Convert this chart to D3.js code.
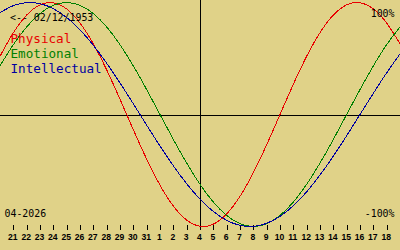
<!DOCTYPE html>
<html>
<head>
<meta charset="utf-8">
<script src="https://cdn.jsdelivr.net/npm/d3@7"></script>
<style>
html,body{margin:0;padding:0;background:#e0d288;}
svg{display:block;}
</style>
</head>
<body>
<svg id="chart" width="400" height="250"></svg>
<script>
// Days shown (Mar 20 .. Apr 19, 2026); edge days are not labelled
const days = [20,21,22,23,24,25,26,27,28,29,30,31,1,2,3,4,5,6,7,8,9,10,11,12,13,14,15,16,17,18,19];
const todayIndex = 15; // April 4
const physical = [0.5196,0.7308,0.8879,0.9791,0.9977,0.9423,0.8170,0.6311,0.3984,0.1362,-0.1362,-0.3984,-0.6311,-0.8170,-0.9423,-0.9977,-0.9791,-0.8879,-0.7308,-0.5196,-0.2698,0,0.2698,0.5196,0.7308,0.8879,0.9791,0.9977,0.9423,0.8170,0.6311];
const emotional = [0.4339,0.6235,0.7818,0.9010,0.9749,1,0.9749,0.9010,0.7818,0.6235,0.4339,0.2225,0,-0.2225,-0.4339,-0.6235,-0.7818,-0.9010,-0.9749,-1,-0.9749,-0.9010,-0.7818,-0.6235,-0.4339,-0.2225,0,0.2225,0.4339,0.6235,0.7818];
const intellectual = [0.9096,0.9718,0.9989,0.9898,0.9450,0.8660,0.7557,0.6182,0.4582,0.2817,0.0951,-0.0951,-0.2817,-0.4582,-0.6182,-0.7557,-0.8660,-0.9450,-0.9898,-0.9989,-0.9718,-0.9096,-0.8146,-0.6901,-0.5406,-0.3717,-0.1893,0,0.1893,0.3717,0.5406];
const seriesNames = ["Physical","Emotional","Intellectual"];
const seriesColors = ["#e80000","#008000","#0000a0"];
const birthLabel = "<-- 02/12/1953";
const monthLabel = "04-2026";
const topLabel = "100%";
const bottomLabel = "-100%";

const svg = d3.select("#chart");
const W = 400;
const x = d3.scaleLinear().domain([0, days.length - 1]).range([0, W]);
const y = d3.scaleLinear().domain([-1, 1]).range([226.5, 2.5]);

// axes cross
svg.append("line")
  .attr("x1", 0).attr("x2", W)
  .attr("y1", Math.floor(y(0)) + 1.5).attr("y2", Math.floor(y(0)) + 1.5)
  .attr("stroke", "#000").attr("stroke-width", 1).attr("shape-rendering", "crispEdges");
svg.append("line")
  .attr("x1", Math.floor(x(todayIndex)) + 0.5).attr("x2", Math.floor(x(todayIndex)) + 0.5)
  .attr("y1", 0).attr("y2", 226)
  .attr("stroke", "#000").attr("stroke-width", 1).attr("shape-rendering", "crispEdges");

// day ticks
const axis = d3.axisBottom(x)
  .tickValues(d3.range(1, days.length - 1))
  .tickFormat(i => days[i])
  .tickSize(5)
  .tickPadding(3);
const gAxis = svg.append("g").attr("transform", "translate(0,225)").call(axis);
gAxis.select(".domain").remove();
gAxis.selectAll(".tick line").attr("stroke", "#000").attr("shape-rendering", "crispEdges");
gAxis.selectAll(".tick text")
  .attr("fill", "#000")
  .attr("font-family", "Liberation Sans, Arial, sans-serif")
  .attr("font-weight", "bold")
  .attr("font-size", 8.6)
  .attr("dy", null)
  .attr("y", 15)
  .attr("dx", -1);

// curves
const seriesData = [physical, emotional, intellectual];
const line = d3.line().x((d, i) => x(i)).y(d => y(d)).curve(d3.curveNatural);
seriesData.forEach((vals, k) => {
  svg.append("path")
    .attr("d", line(vals))
    .attr("fill", "none")
    .attr("stroke", seriesColors[k])
    .attr("stroke-width", 1)
    .attr("shape-rendering", "crispEdges");
});

// texts
const mono = "DejaVu Sans Mono, Liberation Mono, monospace";
function monoText(str, xPos, yPos, size, charW, color, anchorEnd) {
  const w = str.length * charW;
  svg.append("text")
    .attr("x", anchorEnd ? xPos - w : xPos).attr("y", yPos)
    .attr("font-family", mono).attr("font-size", size)
    .attr("textLength", w).attr("lengthAdjust", "spacingAndGlyphs")
    .attr("fill", color).text(str);
}
monoText(birthLabel, 10, 21, 11, 5.95, "#000", false);
seriesNames.forEach((n, k) => monoText(n, 10.5, 43 + 15 * k, 13, 7.6, seriesColors[k], false));
monoText(monthLabel, 4.5, 216.5, 11, 5.95, "#000", false);
monoText(topLabel, 394.5, 16.5, 11, 5.95, "#000", true);
monoText(bottomLabel, 394.5, 216.5, 11, 5.95, "#000", true);
</script>
</body>
</html>
